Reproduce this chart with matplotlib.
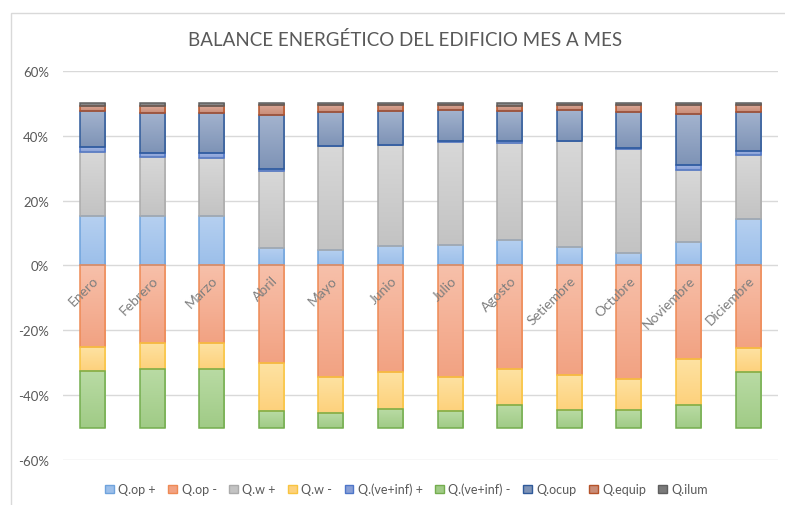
import numpy as np
import matplotlib.pyplot as plt
from matplotlib.patches import Patch, Rectangle
from matplotlib.colors import to_rgb
from matplotlib.ticker import FuncFormatter

plt.rcParams['font.family'] = ['Lato', 'DejaVu Sans']

meses = ['Enero', 'Febrero', 'Marzo', 'Abril', 'Mayo', 'Junio',
         'Julio', 'Agosto', 'Setiembre', 'Octubre', 'Noviembre', 'Diciembre']

# ganancias (% del balance)
q_op_pos = [15.2, 15.3, 15.3, 5.4, 4.9, 6.0, 6.4, 7.8, 5.7, 3.9, 7.2, 14.3]
q_w_pos = [19.8, 18.0, 17.8, 23.6, 31.8, 31.0, 31.7, 29.8, 32.6, 32.1, 22.1, 19.6]
q_vi_pos = [1.5, 1.4, 1.6, 0.8, 0.2, 0.2, 0.3, 0.7, 0.2, 0.2, 1.8, 1.3]
q_ocup = [11.0, 12.4, 12.4, 16.5, 10.5, 10.4, 9.5, 9.3, 9.4, 11.2, 15.5, 12.2]
q_equip = [1.7, 2.0, 2.0, 3.1, 2.1, 1.9, 1.6, 1.6, 1.6, 2.1, 2.9, 2.1]
q_ilum = [0.8, 0.9, 0.9, 0.6, 0.5, 0.5, 0.5, 0.8, 0.5, 0.5, 0.5, 0.5]

# perdidas (% del balance)
q_op_neg = [-25.2, -23.8, -24.0, -30.0, -34.3, -32.9, -34.4, -32.1, -33.9, -34.9, -29.0, -25.6]
q_w_neg = [-7.4, -8.1, -7.8, -14.8, -11.3, -11.4, -10.6, -11.1, -10.6, -9.8, -14.0, -7.3]
q_vi_neg = [-17.4, -18.1, -18.2, -5.2, -4.4, -5.7, -5.0, -6.8, -5.5, -5.3, -7.0, -17.1]

series = [
    ('Q.op +', q_op_pos, '#b6d0f0', '#9cbfea', '#6fa3dc'),
    ('Q.op -', q_op_neg, '#f7c0aa', '#f2a282', '#ee8a55'),
    ('Q.w +', q_w_pos, '#d8d8d8', '#c3c3c3', '#ababab'),
    ('Q.w -', q_w_neg, '#fee2a2', '#fdd17c', '#f8c440'),
    ('Q.(ve+inf) +', q_vi_pos, '#a3b7e4', '#889fd6', '#4e76c9'),
    ('Q.(ve+inf) -', q_vi_neg, '#b9dba4', '#a0cb86', '#74ad4e'),
    ('Q.ocup', q_ocup, '#a3b3ce', '#7e93b6', '#2f5a9a'),
    ('Q.equip', q_equip, '#dba999', '#c98c77', '#b5532a'),
    ('Q.ilum', q_ilum, '#939393', '#7a7a7a', '#5f5f5f'),
]

fig = plt.figure(figsize=(7.85, 5.06), dpi=100)
ax = fig.add_axes([0.080, 0.089, 0.911, 0.769])

x = np.arange(len(meses))
width = 0.42
base_pos = np.zeros(len(meses))
base_neg = np.zeros(len(meses))

for name, vals, top_c, bot_c, edge_c in series:
    vals = np.array(vals) / 100.0
    if vals[0] >= 0:
        bottom = base_pos.copy()
        base_pos += vals
    else:
        bottom = base_neg.copy()
        base_neg += vals
    bars = ax.bar(x, vals, width, bottom=bottom, color=bot_c,
                  edgecolor='none', zorder=2)
    # degradado vertical dentro de cada segmento
    grad = np.linspace(0, 1, 64)[:, None, None]
    img = (1 - grad) * np.array(to_rgb(top_c)) + grad * np.array(to_rgb(bot_c))
    for b in bars:
        x0, y0 = b.get_x(), b.get_y()
        w, h = b.get_width(), b.get_height()
        lo, hi = min(y0, y0 + h), max(y0, y0 + h)
        im = ax.imshow(img, extent=(x0, x0 + w, lo, hi), aspect='auto',
                       interpolation='bilinear', zorder=3)
        im.set_clip_path(b)
    ax.bar(x, vals, width, bottom=bottom, color='none',
           edgecolor=edge_c, linewidth=1.1, zorder=4)

ax.set_xlim(-0.5, len(meses) - 0.5)
ax.set_ylim(-0.6, 0.6)
ax.set_yticks(np.arange(-0.6, 0.61, 0.2))
ax.yaxis.set_major_formatter(FuncFormatter(lambda v, p: f'{v*100:.0f}%'))
ax.tick_params(axis='y', length=0, pad=10, labelsize=9.5, labelcolor='#595959')
ax.set_xticks([])
ax.grid(axis='y', color='#d9d9d9', linewidth=1, zorder=0)
ax.set_axisbelow(True)
for s in ax.spines.values():
    s.set_visible(False)

for i, m in enumerate(meses):
    ax.annotate(m, (i, 0), xytext=(0, -6), textcoords='offset points',
                rotation=45, rotation_mode='anchor', ha='right', va='top',
                fontsize=10, color='#7f7f7f', zorder=5)

fig.text(0.516, 1 - 40 / 506, 'BALANCE ENERGÉTICO DEL EDIFICIO MES A MES',
         ha='center', va='center', fontsize=13.5, color='#595959')

handles = [Patch(facecolor=bot_c, edgecolor=edge_c, linewidth=1, label=name)
           for name, _, _, bot_c, edge_c in series]
fig.legend(handles=handles, loc='center', bbox_to_anchor=(0.518, 1 - 490 / 506),
           ncol=9, frameon=False, fontsize=9, handlelength=0.7, handleheight=0.7,
           handletextpad=0.35, columnspacing=1.0, labelcolor='#595959')

fig.add_artist(Rectangle((11 / 785, -0.1), 1.2, 0.1 + 1 - 14 / 506,
                         transform=fig.transFigure, fill=False,
                         edgecolor='#d9d9d9', linewidth=1))

fig.savefig('out.png', dpi=100)
